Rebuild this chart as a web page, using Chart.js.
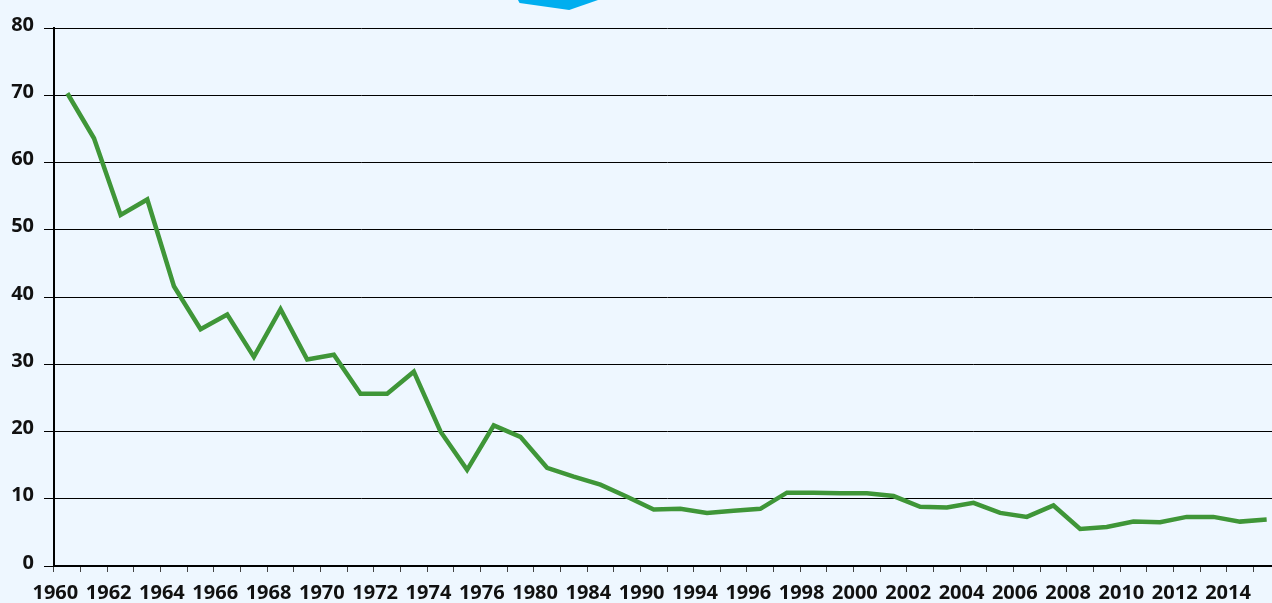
<!DOCTYPE html>
<html>
<head>
<meta charset="utf-8">
<script src="https://cdn.jsdelivr.net/npm/chart.js@4"></script>
<style>
  html, body { margin: 0; padding: 0; background: #eef7ff; overflow: hidden; }
  #wrap { position: relative; width: 1280px; height: 603px; }
  #arrow {
    position: absolute; left: 518px; top: 0; width: 80px; height: 10px;
    background: #00aeef;
    clip-path: polygon(0 0, 100% 0, 64% 100%, 2% 30%);
  }
</style>
</head>
<body>
<div id="wrap">
  <canvas id="grafica" width="1280" height="603"></canvas>
  <div id="arrow"></div>
</div>
<script>
// Años (se muestra una etiqueta de cada dos)
const years = [
    '1960', '1961', '1962', '1963', '1964', '1965', '1966', '1967', '1968', '1969',
    '1970', '1971', '1972', '1973', '1974', '1975', '1976', '1978', '1980', '1982',
    '1984', '1987', '1990', '1992', '1994', '1995', '1996', '1997', '1998', '1999',
    '2000', '2001', '2002', '2003', '2004', '2005', '2006', '2007', '2008', '2009',
    '2010', '2011', '2012', '2013', '2014', '2015'
];

const values = [
    70.3, 63.6, 52.2, 54.5, 41.6, 35.2, 37.4, 31.1, 38.2, 30.7,
    31.4, 25.6, 25.6, 28.9, 20.0, 14.3, 20.9, 19.2, 14.6, 13.3,
    12.1, 10.3, 8.4, 8.5, 7.9, 8.2, 8.5, 10.9, 10.9, 10.8,
    10.8, 10.4, 8.8, 8.7, 9.4, 7.9, 7.3, 9.0, 5.5, 5.8,
    6.6, 6.5, 7.3, 7.3, 6.6, 6.9
];

const yTicks = [0, 10, 20, 30, 40, 50, 60, 70, 80];

const ctx = document.getElementById('grafica').getContext('2d');
const grafica = new Chart(ctx, {
    type: 'line',
    data: {
        labels: years,
        datasets: [{
            data: values,
            borderColor: '#3f9638',
            borderWidth: 4.5,
            pointRadius: 0,
            tension: 0,
            fill: false
        }]
    },
    options: {
        responsive: false,
        animation: false,
        layout: { padding: { top: 28, right: 0, bottom: 0, left: 0 } },
        plugins: {
            legend: { display: false },
            tooltip: { enabled: false }
        },
        scales: {
            x: {
                offset: true,
                grid: {
                    offset: true,
                    drawOnChartArea: false,
                    drawTicks: true,
                    tickLength: 6,
                    color: '#444'
                },
                border: { display: true, color: '#000', width: 2 },
                ticks: {
                    autoSkip: false,
                    maxRotation: 0,
                    minRotation: 0,
                    labelOffset: -12,
                    padding: 9,
                    color: '#111',
                    font: { family: 'Open Sans', weight: 'bold', size: 20 },
                    callback: function (value, index) {
                        return index % 2 === 0 ? this.getLabelForValue(value) : '';
                    }
                },
                afterFit: function (scale) { scale.height = 37; }
            },
            y: {
                min: 0,
                max: 80,
                afterBuildTicks: function (scale) {
                    scale.ticks = yTicks.map(v => ({ value: v }));
                },
                grid: {
                    color: '#000',
                    lineWidth: 1,
                    tickLength: 10
                },
                border: { display: true, color: '#000', width: 2 },
                ticks: {
                    padding: 10,
                    labelOffset: -3,
                    color: '#111',
                    font: { family: 'Open Sans', weight: 'bold', size: 20 }
                },
                afterFit: function (scale) { scale.width = 54; }
            }
        }
    }
});
</script>
</body>
</html>
